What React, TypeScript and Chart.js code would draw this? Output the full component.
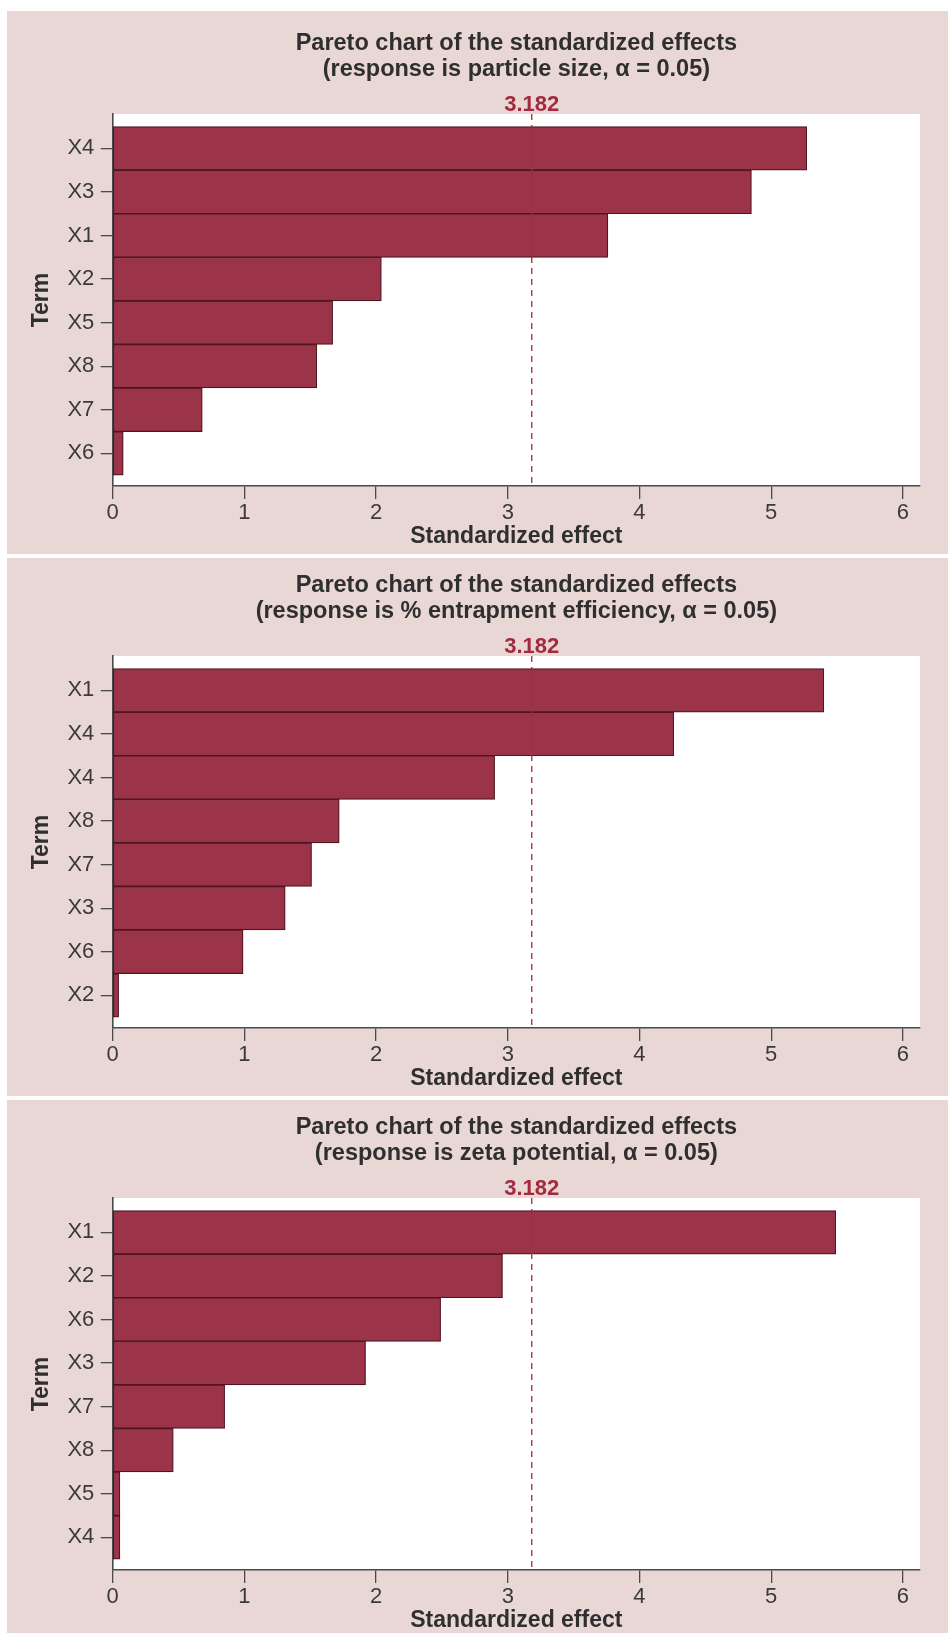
import React, { useEffect, useRef } from "react";
import { Chart, registerables } from "chart.js";

Chart.register(...registerables);

// Critical t value (alpha = 0.05) drawn as the reference line in each panel
const CRITICAL_T = 3.182;
const EFFECT_TICKS = [0, 1, 2, 3, 4, 5, 6];
const EFFECT_MAX = 6.13;

const MAIN_TITLE = "Pareto chart of the standardized effects";

// Particle size
const sizeSubtitle = "(response is particle size, α = 0.05)";
const sizeTerms = ["X4", "X3", "X1", "X2", "X5", "X8", "X7", "X6"];
const sizeEffects = [5.27, 4.85, 3.76, 2.04, 1.67, 1.55, 0.68, 0.08];

// % entrapment efficiency
const entrapSubtitle = "(response is % entrapment efficiency, α = 0.05)";
const entrapTerms = ["X1", "X4", "X4", "X8", "X7", "X3", "X6", "X2"];
const entrapEffects = [5.4, 4.26, 2.9, 1.72, 1.51, 1.31, 0.99, 0.045];

// Zeta potential
const zetaSubtitle = "(response is zeta potential, α = 0.05)";
const zetaTerms = ["X1", "X2", "X6", "X3", "X7", "X8", "X5", "X4"];
const zetaEffects = [5.49, 2.96, 2.49, 1.92, 0.85, 0.46, 0.055, 0.055];

const FONT = "'Liberation Sans', Arial, Helvetica, sans-serif";
const PANEL_BG = "#e9d7d5";
const BAR_FILL = "#9c3449";
const BAR_EDGE = "#4f1521";
const AXIS_COLOR = "#4a4a4a";
const TEXT_COLOR = "#2f2f2f";
const TICK_COLOR = "#3a3a3a";
const REF_RED = "#a3293d";

const CANVAS_W = 941;
const CANVAS_H = 540;
const PLOT_TOP = 98;
const PLOT_H = 372;

const paretoDecor = {
  id: "paretoDecor",
  beforeDraw(chart: any) {
    const { ctx, chartArea: a } = chart;
    ctx.save();
    ctx.fillStyle = "#ffffff";
    ctx.fillRect(a.left, a.top, a.right - a.left, a.bottom - a.top);
    ctx.restore();
  },
  afterDatasetsDraw(chart: any, _args: any, opts: any) {
    const { ctx, chartArea: a, scales } = chart;
    const x = scales.x.getPixelForValue(opts.threshold);
    ctx.save();
    // dashed reference line
    ctx.strokeStyle = REF_RED;
    ctx.lineWidth = 1.3;
    ctx.setLineDash([6, 5]);
    ctx.beginPath();
    ctx.moveTo(x, a.top);
    ctx.lineTo(x, a.bottom);
    ctx.stroke();
    ctx.setLineDash([]);
    ctx.fillStyle = REF_RED;
    ctx.textAlign = "center";
    ctx.textBaseline = "middle";
    ctx.font = `bold 22px ${FONT}`;
    ctx.fillText(opts.threshold.toFixed(3), x, a.top - 9);
    // panel title
    const cx = (a.left + a.right) / 2;
    ctx.fillStyle = TEXT_COLOR;
    ctx.font = `bold 23.5px ${FONT}`;
    (opts.lines as string[]).forEach((line, i) => {
      ctx.fillText(line, cx, a.top - 70 + i * 26);
    });
    ctx.restore();
  },
};

type ParetoProps = {
  terms: string[];
  effects: number[];
  subtitle: string;
  top: number;
};

function ParetoPanel({ terms, effects, subtitle, top }: ParetoProps) {
  const ref = useRef<HTMLCanvasElement | null>(null);

  useEffect(() => {
    if (!ref.current) return;
    const chart = new Chart(ref.current, {
      type: "bar",
      data: {
        datasets: [
          {
            data: effects.map((v, i) => ({ x: v, y: i })),
            backgroundColor: BAR_FILL,
            borderColor: BAR_EDGE,
            borderWidth: 1.2,
            borderSkipped: false,
            categoryPercentage: 1,
            barPercentage: 1,
          } as any,
        ],
      },
      options: {
        indexAxis: "y",
        animation: false,
        responsive: false,
        events: [],
        layout: { padding: { top: PLOT_TOP, right: 28, left: 0, bottom: 0 } },
        plugins: {
          legend: { display: false },
          tooltip: { enabled: false },
          title: { display: false },
          paretoDecor: { threshold: CRITICAL_T, lines: [MAIN_TITLE, subtitle] },
        } as any,
        scales: {
          x: {
            type: "linear",
            min: 0,
            max: EFFECT_MAX,
            offset: false,
            afterBuildTicks: (s: any) => {
              s.ticks = EFFECT_TICKS.map((v) => ({ value: v }));
            },
            afterFit: (s: any) => {
              s.height = CANVAS_H - PLOT_TOP - PLOT_H;
            },
            grid: {
              offset: false,
              drawOnChartArea: false,
              drawTicks: true,
              tickLength: 13,
              color: AXIS_COLOR,
              lineWidth: 1.3,
            },
            border: { display: true, color: AXIS_COLOR, width: 1.6 },
            ticks: {
              font: { family: FONT, size: 22 },
              color: TICK_COLOR,
              padding: 1,
              maxRotation: 0,
            },
            title: {
              display: true,
              text: "Standardized effect",
              font: { family: FONT, size: 23, weight: "bold" },
              color: TEXT_COLOR,
              padding: { top: 0, bottom: 5.4 },
            },
          },
          y: {
            type: "linear",
            reverse: true,
            offset: false,
            min: -0.79,
            max: 7.75,
            afterBuildTicks: (s: any) => {
              s.ticks = terms.map((_, i) => ({ value: i }));
            },
            afterFit: (s: any) => {
              s.width = 105.7;
            },
            grid: {
              offset: false,
              drawOnChartArea: false,
              drawTicks: true,
              tickLength: 12,
              color: AXIS_COLOR,
              lineWidth: 1.3,
            },
            border: { display: true, color: AXIS_COLOR, width: 1.6 },
            ticks: {
              font: { family: FONT, size: 22 },
              color: TICK_COLOR,
              padding: 6.4,
              callback: (v: any) => terms[Math.round(Number(v))] ?? "",
            },
            title: {
              display: true,
              text: "Term",
              font: { family: FONT, size: 23, weight: "bold" },
              color: TEXT_COLOR,
              padding: { top: 21, bottom: 0 },
            },
          },
        },
      } as any,
      plugins: [paretoDecor as any],
    });
    return () => chart.destroy();
  }, [terms, effects, subtitle]);

  return (
    <canvas
      ref={ref}
      width={CANVAS_W}
      height={CANVAS_H}
      style={{
        position: "absolute",
        left: 7,
        top,
        width: CANVAS_W,
        height: CANVAS_H,
      }}
    />
  );
}

export default function App() {
  const panel = (top: number, height: number) => ({
    position: "absolute" as const,
    left: 7,
    top,
    width: 941,
    height,
    background: PANEL_BG,
  });
  return (
    <div
      style={{
        position: "absolute",
        left: 0,
        top: 0,
        width: 948,
        height: 1633,
        overflow: "hidden",
        background: "#ffffff",
      }}
    >
      <div style={panel(11, 543)} />
      <div style={panel(558, 538)} />
      <div style={panel(1100, 533)} />
      <ParetoPanel terms={sizeTerms} effects={sizeEffects} subtitle={sizeSubtitle} top={16.3} />
      <ParetoPanel terms={entrapTerms} effects={entrapEffects} subtitle={entrapSubtitle} top={558} />
      <ParetoPanel terms={zetaTerms} effects={zetaEffects} subtitle={zetaSubtitle} top={1099.5} />
    </div>
  );
}
